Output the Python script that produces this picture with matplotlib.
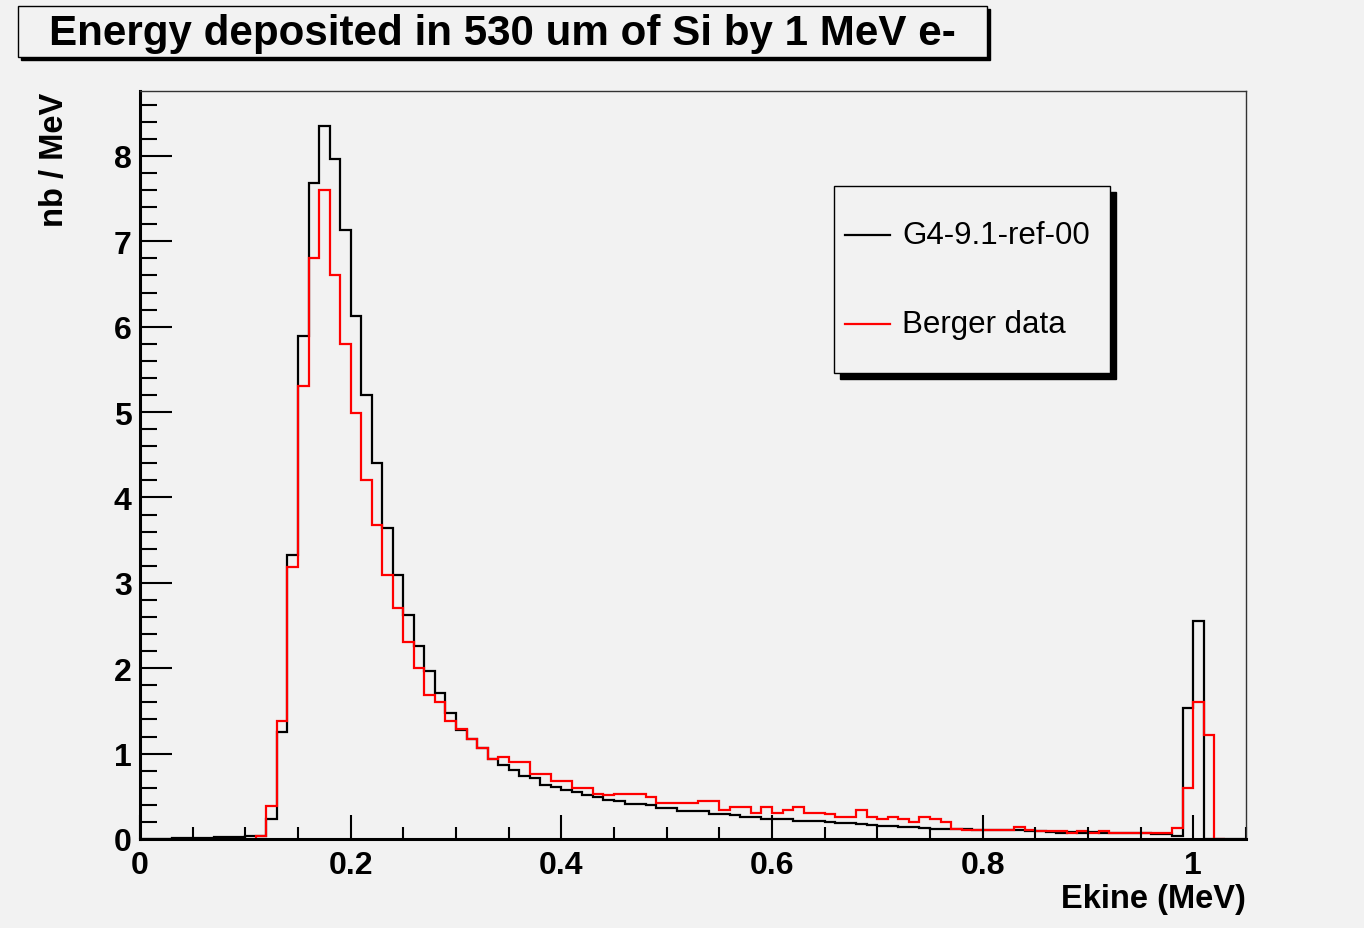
import matplotlib.pyplot as plt
import numpy as np
from matplotlib.patches import Rectangle
from matplotlib.lines import Line2D
from matplotlib.ticker import MultipleLocator, FuncFormatter

plt.rcParams['font.family'] = ['Liberation Sans', 'DejaVu Sans']

BG = '#f2f2f2'
W, H = 1364, 929

# histogram contents, bins of 0.01 MeV
g4_edges = np.round(np.arange(0, 1.051, 0.01), 2)
g4_counts = [
    0, 0, 0, 0.01, 0.01, 0.01, 0.01, 0.02, 0.02, 0.02,
    0.03, 0.03, 0.24, 1.25, 3.33, 5.89, 7.68, 8.35, 7.96, 7.13,
    6.13, 5.20, 4.40, 3.64, 3.09, 2.62, 2.26, 1.97, 1.71, 1.48,
    1.28, 1.17, 1.07, 0.94, 0.87, 0.81, 0.74, 0.71, 0.63, 0.61,
    0.57, 0.55, 0.52, 0.49, 0.46, 0.45, 0.41, 0.41, 0.40, 0.36,
    0.36, 0.33, 0.33, 0.33, 0.29, 0.29, 0.28, 0.26, 0.26, 0.24,
    0.23, 0.23, 0.21, 0.21, 0.21, 0.20, 0.19, 0.19, 0.17, 0.16,
    0.15, 0.15, 0.14, 0.14, 0.13, 0.12, 0.12, 0.12, 0.12, 0.11,
    0.11, 0.10, 0.10, 0.10, 0.09, 0.09, 0.08, 0.07, 0.08, 0.07,
    0.08, 0.07, 0.07, 0.07, 0.07, 0.07, 0.06, 0.06, 0.04, 1.54,
    2.55, 0, 0, 0, 0,
]

berger_edges = np.round(np.arange(0.11, 1.031, 0.01), 2)
berger_counts = [
    0.03, 0.39, 1.38, 3.18, 5.30, 6.80, 7.60, 6.61, 5.80,
    4.99, 4.20, 3.68, 3.09, 2.70, 2.31, 2.00, 1.69, 1.60, 1.38,
    1.29, 1.17, 1.07, 0.94, 0.96, 0.90, 0.90, 0.76, 0.76, 0.68,
    0.68, 0.60, 0.60, 0.53, 0.52, 0.53, 0.53, 0.53, 0.49, 0.42,
    0.42, 0.42, 0.42, 0.44, 0.44, 0.34, 0.38, 0.38, 0.31, 0.38,
    0.31, 0.34, 0.38, 0.31, 0.31, 0.29, 0.26, 0.26, 0.34, 0.26,
    0.24, 0.26, 0.24, 0.20, 0.26, 0.24, 0.20, 0.12, 0.10, 0.10,
    0.10, 0.10, 0.10, 0.14, 0.10, 0.09, 0.09, 0.09, 0.07, 0.09,
    0.07, 0.09, 0.07, 0.07, 0.07, 0.07, 0.07, 0.07, 0.13, 0.60,
    1.61, 1.22, 0,
]

labels = ['G4-9.1-ref-00', 'Berger data']
colors = ['black', 'red']
title = 'Energy deposited in 530 um of Si by 1 MeV e-'


def fx(px):
    return px / W


def fy(py):
    return 1 - py / H


fig = plt.figure(figsize=(W / 100, H / 100), dpi=100, facecolor=BG)
ax = fig.add_axes([fx(140), fy(840), (1246 - 140) / W, (840 - 92) / H])
ax.set_facecolor(BG)

ax.stairs(g4_counts, g4_edges, color=colors[0], lw=1.6)
ax.stairs(berger_counts, berger_edges, color=colors[1], lw=1.6)

ax.set_xlim(0, 1.05)
ax.set_ylim(0, 8.76)

ax.xaxis.set_major_locator(MultipleLocator(0.2))
ax.xaxis.set_minor_locator(MultipleLocator(0.05))
ax.yaxis.set_major_locator(MultipleLocator(1))
ax.yaxis.set_minor_locator(MultipleLocator(0.2))
ax.xaxis.set_major_formatter(FuncFormatter(lambda v, p: '%g' % round(v, 2)))

ax.tick_params(axis='y', which='major', direction='in', length=23, width=1.5, pad=6)
ax.tick_params(axis='y', which='minor', direction='in', length=12, width=1.5)
ax.tick_params(axis='x', which='major', direction='in', length=17, width=1.5, pad=8)
ax.tick_params(axis='x', which='minor', direction='in', length=8.5, width=1.5)
for lab in ax.get_xticklabels() + ax.get_yticklabels():
    lab.set_fontweight('bold')
    lab.set_fontsize(23)

for s in ['left', 'bottom']:
    ax.spines[s].set_linewidth(2.2)
for s in ['top', 'right']:
    ax.spines[s].set_linewidth(1.0)
    ax.spines[s].set_color('#333333')

fig.text(fx(1246), fy(900), 'Ekine (MeV)', ha='right', va='center',
         fontsize=23.5, fontweight='bold')
fig.text(fx(55), fy(93), 'nb / MeV', ha='center', va='top', rotation=90,
         fontsize=23.5, fontweight='bold')

# title box with ROOT-style shadow
fig.add_artist(Rectangle((fx(21), fy(61)), (987 - 18) / W, (58 - 7) / H,
                         transform=fig.transFigure, facecolor='black', edgecolor='black'))
fig.add_artist(Rectangle((fx(18), fy(58)), (987 - 18) / W, (58 - 7) / H,
                         transform=fig.transFigure, facecolor=BG, edgecolor='black', lw=1))
fig.text(fx(502), fy(34), title, ha='center', va='center', fontsize=30.3, fontweight='bold')

# legend box
fig.add_artist(Rectangle((fx(840), fy(380)), (1110 - 834) / W, (374 - 187) / H,
                         transform=fig.transFigure, facecolor='black', edgecolor='black'))
fig.add_artist(Rectangle((fx(834), fy(374)), (1110 - 834) / W, (374 - 187) / H,
                         transform=fig.transFigure, facecolor=BG, edgecolor='black', lw=1))
for i, (lab, c) in enumerate(zip(labels, colors)):
    yy = [236, 325][i]
    fig.add_artist(Line2D([fx(845), fx(890)], [fy(yy), fy(yy)], color=c, lw=1.6,
                          transform=fig.transFigure))
    fig.text(fx(902), fy(yy), lab, ha='left', va='center', fontsize=22.5)

fig.savefig('out.png', dpi=100, facecolor=BG)
